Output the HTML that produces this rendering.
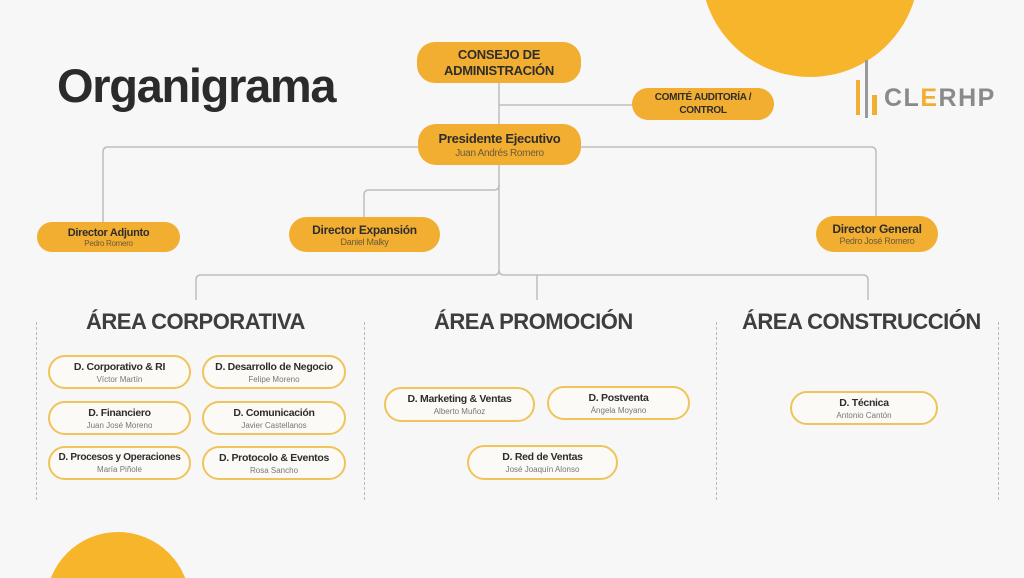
<!DOCTYPE html>
<html style="overflow:hidden;width:1024px;height:578px"><head><meta charset="utf-8"><style>
body{margin:0;width:1024px;height:578px;overflow:hidden;background:#f7f7f7;font-family:"Liberation Sans",sans-serif;position:relative}
.a{position:absolute}
.o{position:absolute;background:#f2ae30;border-radius:18px;display:flex;flex-direction:column;align-items:center;justify-content:center;color:#2d2d2d;font-weight:bold;text-align:center;box-sizing:border-box;white-space:nowrap;letter-spacing:-0.3px}
.o span{font-weight:normal;color:#6b5a3a;font-size:9px}
.w{position:absolute;background:#fbfaf6;border:2px solid #f0c45a;border-radius:18px;display:flex;flex-direction:column;align-items:center;justify-content:center;color:#2d2d2d;font-weight:bold;font-size:10.5px;text-align:center;box-sizing:border-box;white-space:nowrap;letter-spacing:-0.3px}
.w span{font-weight:normal;color:#777;font-size:8px;margin-top:2px;letter-spacing:0}
.t{position:absolute;font-weight:bold;font-size:22px;color:#3e3e3e;letter-spacing:-0.5px;white-space:nowrap}
.d{position:absolute;top:322px;height:178px;border-left:1px dashed #bbb}
</style></head><body>
<svg class="a" style="left:0;top:0" width="1024" height="578" fill="none" stroke="#bdbdbd" stroke-width="1.5">
<circle cx="810" cy="-32" r="109" fill="#f7b52c" stroke="none"/>
<circle cx="118" cy="604" r="72" fill="#f7b52c" stroke="none"/>
<path d="M499 83V270q0 5 5 5H863q5 0 5 5V300"/>
<path d="M499 270q0 5-5 5H201q-5 0-5 5V300"/>
<path d="M537 275V300"/>
<path d="M499 105H632"/>
<path d="M418 147H108q-5 0-5 5V222"/>
<path d="M581 147H871q5 0 5 5V216"/>
<path d="M499 185q0 5-5 5H369q-5 0-5 5V217"/>
</svg>
<div class="a" style="left:57px;top:58px;font-size:47px;font-weight:bold;color:#2b2b2b;letter-spacing:-1.3px">Organigrama</div>
<div class="a" style="left:856px;top:80px;width:4px;height:35px;background:#f2ae30"></div>
<div class="a" style="left:865px;top:60px;width:3px;height:58px;background:#999"></div>
<div class="a" style="left:872px;top:95px;width:5px;height:20px;background:#f2ae30"></div>
<div class="a" style="left:884px;top:84px;font-size:25px;font-weight:bold;color:#8a8a8a;letter-spacing:1.5px">CL<span style="color:#f2ae30">E</span>RHP</div>
<div class="o" style="left:417px;top:42px;width:164px;height:41px;font-size:13px;line-height:16px">CONSEJO DE<br>ADMINISTRACIÓN</div>
<div class="o" style="left:632px;top:88px;width:142px;height:32px;font-size:10px;line-height:13px">COMITÉ AUDITORÍA /<br>CONTROL</div>
<div class="o" style="left:418px;top:124px;width:163px;height:41px;font-size:13px">Presidente Ejecutivo<span style="font-size:10px;margin-top:2px">Juan Andrés Romero</span></div>
<div class="o" style="left:37px;top:222px;width:143px;height:30px;font-size:11px">Director Adjunto<span style="font-size:8px">Pedro Romero</span></div>
<div class="o" style="left:289px;top:217px;width:151px;height:35px;font-size:12px">Director Expansión<span>Daniel Malky</span></div>
<div class="o" style="left:816px;top:216px;width:122px;height:36px;font-size:12px">Director General<span>Pedro José Romero</span></div>
<div class="t" style="left:86px;top:309px">ÁREA CORPORATIVA</div>
<div class="t" style="left:434px;top:309px">ÁREA PROMOCIÓN</div>
<div class="t" style="left:742px;top:309px">ÁREA CONSTRUCCIÓN</div>
<div class="d" style="left:36px"></div><div class="d" style="left:364px"></div><div class="d" style="left:716px"></div><div class="d" style="left:998px"></div>
<div class="w" style="left:48px;top:355px;width:143px;height:34px">D. Corporativo &amp; RI<span>Víctor Martín</span></div>
<div class="w" style="left:202px;top:355px;width:144px;height:34px">D. Desarrollo de Negocio<span>Felipe Moreno</span></div>
<div class="w" style="left:48px;top:401px;width:143px;height:34px">D. Financiero<span>Juan José Moreno</span></div>
<div class="w" style="left:202px;top:401px;width:144px;height:34px">D. Comunicación<span>Javier Castellanos</span></div>
<div class="w" style="left:48px;top:446px;width:143px;height:34px;font-size:10px">D. Procesos y Operaciones<span>María Piñole</span></div>
<div class="w" style="left:202px;top:446px;width:144px;height:34px">D. Protocolo &amp; Eventos<span>Rosa Sancho</span></div>
<div class="w" style="left:384px;top:387px;width:151px;height:35px">D. Marketing &amp; Ventas<span>Alberto Muñoz</span></div>
<div class="w" style="left:547px;top:386px;width:143px;height:34px">D. Postventa<span>Ángela Moyano</span></div>
<div class="w" style="left:467px;top:445px;width:151px;height:35px">D. Red de Ventas<span>José Joaquín Alonso</span></div>
<div class="w" style="left:790px;top:391px;width:148px;height:34px">D. Técnica<span>Antonio Cantón</span></div>
</body></html>
